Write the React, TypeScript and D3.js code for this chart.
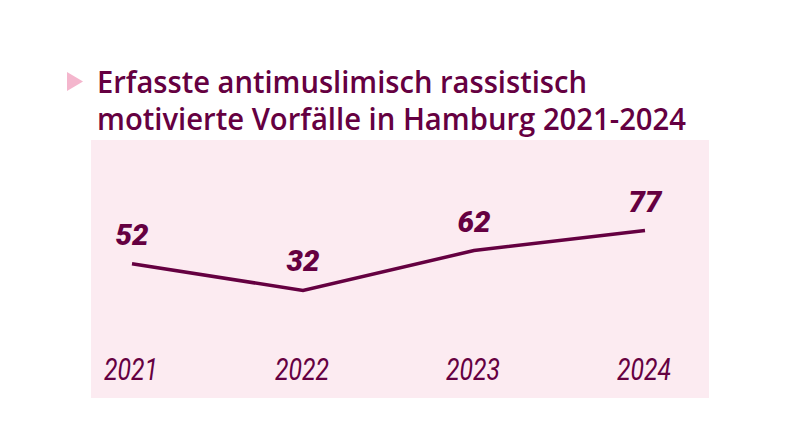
import React from "react";
import * as d3 from "d3";

const years = ["2021", "2022", "2023", "2024"];
const values = [52, 32, 62, 77];
const titleLines = [
  "Erfasste antimuslimisch rassistisch",
  "motivierte Vorfälle in Hamburg 2021-2024",
];

const W = 788;
const H = 422;
const PURPLE = "#650041";
const BG = "#fcebf1";
const TRI = "#f4b6cd";

export default function App() {
  const x = d3.scalePoint<string>().domain(years).range([132, 645]);
  const y = d3.scaleLinear().domain([0, 100]).range([333, 200]);
  const line = d3
    .line<number>()
    .x((_, i) => x(years[i]) as number)
    .y((d) => y(d));

  return (
    <svg
      width={W}
      height={H}
      style={{ position: "absolute", left: 0, top: 0, background: "#fff" }}
    >
      <rect x={91} y={140} width={618} height={258} fill={BG} />
      <path d="M67,72 L83,81.5 L67,91 Z" fill={TRI} />
      {titleLines.map((t, i) => (
        <text
          key={i}
          x={97}
          y={93 + i * 37}
          fontFamily="'Open Sans', 'Noto Sans', sans-serif"
          fontWeight={600}
          fontSize={30}
          fill={PURPLE}
          textLength={i === 0 ? 490 : 589}
          lengthAdjust="spacingAndGlyphs"
        >
          {t}
        </text>
      ))}
      <path
        d={line(values) || ""}
        fill="none"
        stroke={PURPLE}
        strokeWidth={3.5}
        strokeLinejoin="miter"
      />
      {values.map((v, i) => (
        <text
          key={"v" + i}
          x={x(years[i])}
          y={y(v) - 19}
          textAnchor="middle"
          fontFamily="Roboto, sans-serif"
          fontWeight={900}
          fontStyle="italic"
          fontSize={30}
          fill={PURPLE}
          textLength={33}
          lengthAdjust="spacingAndGlyphs"
        >
          {v}
        </text>
      ))}
      {years.map((yr) => (
        <text
          key={yr}
          x={(x(yr) as number) - 1}
          y={380}
          textAnchor="middle"
          fontFamily="Roboto, sans-serif"
          fontWeight={400}
          fontStyle="italic"
          fontSize={31}
          fill={PURPLE}
          textLength={54}
          lengthAdjust="spacingAndGlyphs"
        >
          {yr}
        </text>
      ))}
    </svg>
  );
}
